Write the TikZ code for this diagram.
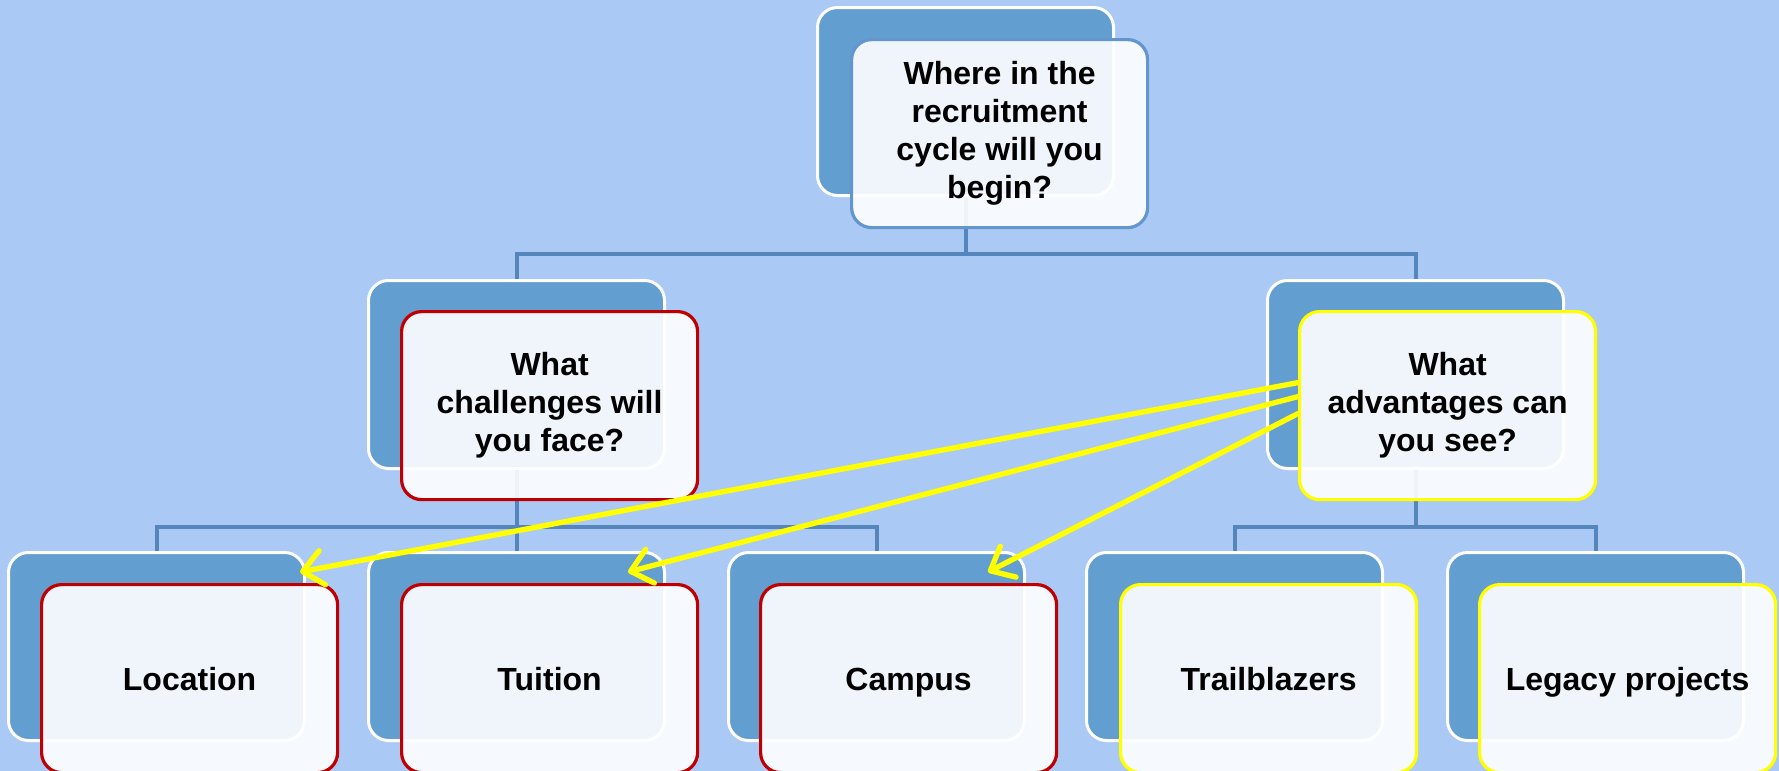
\documentclass[tikz,border=0pt]{standalone}
\usepackage{fontspec}
\setmainfont{Liberation Sans}
\usetikzlibrary{arrows.meta,calc}
\definecolor{bg}{RGB}{171,201,245}
\definecolor{backfill}{RGB}{98,158,208}
\definecolor{connc}{RGB}{84,134,188}
\definecolor{topedge}{RGB}{98,150,205}
\definecolor{rededge}{RGB}{192,0,0}
\definecolor{yeledge}{RGB}{255,255,0}
\begin{document}
\begin{tikzpicture}[x=0.75pt,y=-0.75pt,
  backbox/.style={draw=white,line width=2.25pt,fill=backfill,rounded corners=15pt,
    minimum width=222pt,minimum height=141pt,anchor=north west,inner sep=0pt},
  frontbox/.style={fill=white,fill opacity=0.9,text opacity=1,line width=2.4pt,
    rounded corners=15pt,minimum width=222pt,minimum height=141pt,anchor=north west,
    align=center,inner sep=0pt,font=\fontsize{24}{28.5}\selectfont\bfseries},
  oneline/.style={text height=19.5pt,text depth=2.25pt},
  topfront/.style={frontbox,draw=topedge},
  redfront/.style={frontbox,draw=rededge},
  yelfront/.style={frontbox,draw=yeledge},
  connline/.style={draw=connc,line width=3pt},
  yarrow/.style={draw=yeledge,line width=4pt,line cap=round,
    -{Straight Barb[length=15pt,width=26pt,round]}}]
\fill[bg] (0,0) rectangle (1779,771);
\useasboundingbox (0,0) rectangle (1779,771);

% back boxes
\node[backbox] (tb) at (816,6) {};
\node[backbox] (lb) at (367,279) {};
\node[backbox] (rb) at (1266,279) {};
\node[backbox] (b1) at (7,551) {};
\node[backbox] (b2) at (367,551) {};
\node[backbox] (b3) at (727,551) {};
\node[backbox] (b4) at (1085,551) {};
\node[backbox] (b5) at (1446,551) {};

% connectors
\draw[connline] (tb.south) -- ++(0,57) -| (lb.north);
\draw[connline] (tb.south) -- ++(0,57) -| (rb.north);
\draw[connline] (lb.south) -- ++(0,57) -| (b1.north);
\draw[connline] (lb.south) -- (b2.north);
\draw[connline] (lb.south) -- ++(0,57) -| (b3.north);
\draw[connline] (rb.south) -- ++(0,57) -| (b4.north);
\draw[connline] (rb.south) -- ++(0,57) -| (b5.north);

% front boxes
\node[topfront] (tf) at (850,38) {Where in the\\recruitment\\cycle will you\\begin?};
\node[redfront] (lf) at (400,310) {What\\challenges will\\you face?};
\node[yelfront] (rf) at (1298,310) {What\\advantages can\\you see?};
\node[redfront,oneline] (f1) at (40,583) {Location};
\node[redfront,oneline] (f2) at (400,583) {Tuition};
\node[redfront,oneline] (f3) at (759,583) {Campus};
\node[yelfront,oneline] (f4) at (1119,583) {Trailblazers};
\node[yelfront,oneline] (f5) at (1478,583) {Legacy projects};

% yellow arrows
\coordinate (s1) at ($(rf.west)+(0,-23)$);
\coordinate (s2) at ($(rf.west)+(0,-9)$);
\coordinate (s3) at ($(rf.west)+(0,8)$);
\coordinate (e1) at ($(b1.north east)+(-6,21)$);
\coordinate (e2) at ($(b2.north east)+(-38,21)$);
\coordinate (e3) at ($(b3.north east)+(-38,21)$);
\draw[yarrow] (s1) -- (e1);
\draw[yarrow] (s2) -- (e2);
\draw[yarrow] (s3) -- (e3);
\end{tikzpicture}
\end{document}
